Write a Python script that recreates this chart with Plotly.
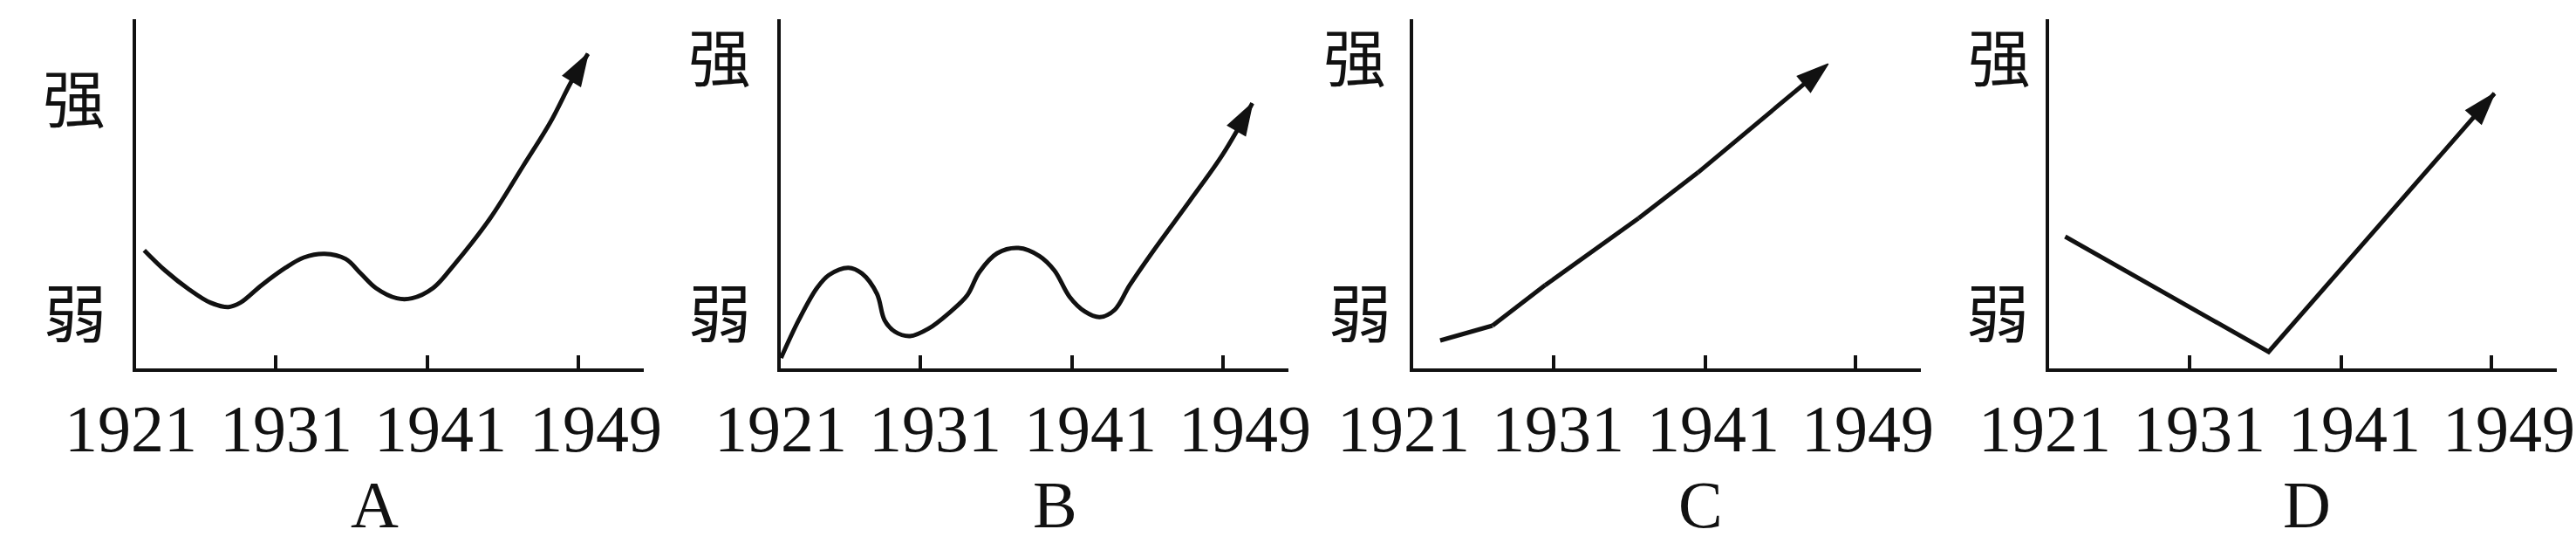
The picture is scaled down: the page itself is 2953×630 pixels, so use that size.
import plotly.graph_objects as go

# ---------------- data ----------------
# x is a schematic time index (tick at 1931 ~ 1, 1941 ~ 2, 1949 ~ 3),
# y is a schematic strength scale 0..10 (弱 low, 强 high)
YEAR_LABELS = ["1921", "1931", "1941", "1949"]
TICK_POS = [0.95, 1.98, 3.0]            # tick marks for 1931, 1941, 1949
LABEL_POS = [-0.03, 1.02, 2.07, 3.12]   # centres of year labels
PANEL_NAMES = ["A", "B", "C", "D"]
STRONG, WEAK = "强", "弱"

A_x = [0.058, 0.201, 0.364, 0.507, 0.630, 0.711, 0.854, 1.017, 1.140, 1.282, 1.425, 1.527,
       1.630, 1.772, 1.874, 2.017, 2.160, 2.405, 2.629, 2.813, 2.956, 3.068]
A_y = [3.383, 2.8, 2.258, 1.883, 1.758, 1.883, 2.383, 2.883, 3.175, 3.283, 3.133, 2.718,
       2.3, 2.008, 2.008, 2.3, 2.968, 4.3, 5.8, 7.05, 8.218, 9.008]

B_x = [0.005, 0.125, 0.248, 0.330, 0.462, 0.554, 0.656, 0.707, 0.778, 0.880, 1.003, 1.146,
       1.268, 1.350, 1.472, 1.615, 1.758, 1.860, 1.962, 2.064, 2.166, 2.268, 2.370, 2.533,
       2.778, 3.002, 3.202]
B_y = [0.3, 1.383, 2.3, 2.675, 2.883, 2.718, 2.133, 1.383, 1.05, 0.925, 1.133, 1.593,
       2.093, 2.758, 3.3, 3.45, 3.218, 2.8, 2.05, 1.633, 1.468, 1.675, 2.383, 3.383,
       4.8, 6.133, 7.593]

C_x = [0.183, 0.538, 0.896, 1.529, 1.932, 2.219, 2.815]
C_y = [0.8, 1.225, 2.385, 4.3, 5.61, 6.62, 8.72]

D_x = [0.109, 1.489, 3.021]
D_y = [3.775, 0.475, 7.875]

SERIES_X = [A_x, B_x, C_x, D_x]
SERIES_Y = [A_y, B_y, C_y, D_y]
SMOOTH = [True, True, False, False]

# level of the 强 / 弱 labels on each panel's y scale
STRONG_LEVEL = [7.85, 9.0, 9.0, 9.0]
WEAK_LEVEL = [1.7, 1.7, 1.7, 1.7]

# ---------------- layout / styling ----------------
W, H = 2953, 630
PANEL_X0 = [155.5, 894.5, 1620, 2349]   # left edge (y axis) of each panel, px
PANEL_W = 582
AX_BOTTOM, AX_TOP = 422, 22
UNIT = 169.0                            # px per x unit
X_RANGE = [0, PANEL_W / UNIT]
Y_RANGE = [0, 10]
LABEL_SHIFT = [0.0, 0.033, -0.035, 0.0]
STRONG_X = [-0.417, -0.411, -0.396, -0.340]
WEAK_X = [-0.411, -0.411, -0.361, -0.349]
LETTER_X = [1.624, 1.861, 1.947, 1.751]

SERIF = "Liberation Serif, Times New Roman, serif"
CJK = "Noto Sans CJK SC, sans-serif"
INK = "#111111"


def dom(u):
    """x position in units -> fraction of the panel's x domain"""
    return u * UNIT / PANEL_W


fig = go.Figure()
annotations = []

for i in range(4):
    n = "" if i == 0 else str(i + 1)
    xa, ya = "x" + n, "y" + n
    sizes = [0] * (len(SERIES_X[i]) - 1) + [38]
    fig.add_trace(go.Scatter(
        x=SERIES_X[i], y=SERIES_Y[i], xaxis=xa, yaxis=ya,
        mode="lines+markers",
        line=dict(color=INK, width=5, shape="spline" if SMOOTH[i] else "linear", smoothing=1.0),
        marker=dict(symbol="arrow", size=sizes, color=INK, opacity=1, angleref="previous",
                    line=dict(width=1.5, color=INK)),
        cliponaxis=False, showlegend=False, hoverinfo="skip",
    ))

    dom_x = [PANEL_X0[i] / W, (PANEL_X0[i] + PANEL_W) / W]
    dom_y = [1 - AX_BOTTOM / H, 1 - AX_TOP / H]
    fig.layout["xaxis" + n] = dict(
        domain=dom_x, range=X_RANGE, anchor=ya,
        showline=True, linewidth=4.2, linecolor=INK,
        ticks="inside", tickvals=TICK_POS, ticklen=15, tickwidth=4.2, tickcolor=INK,
        showticklabels=False, showgrid=False, zeroline=False, fixedrange=True,
    )
    fig.layout["yaxis" + n] = dict(
        domain=dom_y, range=Y_RANGE, anchor=xa,
        showline=True, linewidth=4.2, linecolor=INK,
        ticks="", showticklabels=False, showgrid=False, zeroline=False, fixedrange=True,
    )

    # 强 / 弱 labels
    for txt, lvl, lx in ((STRONG, STRONG_LEVEL[i], STRONG_X[i]), (WEAK, WEAK_LEVEL[i], WEAK_X[i])):
        annotations.append(dict(
            text=txt, xref=xa + " domain", yref=ya, x=dom(lx), y=lvl,
            xanchor="center", yanchor="middle",
            showarrow=False, font=dict(family=CJK, size=72, color=INK),
        ))
    # year labels
    for lab, pos in zip(YEAR_LABELS, LABEL_POS):
        annotations.append(dict(
            text=lab, xref=xa + " domain", yref="paper", x=dom(pos + LABEL_SHIFT[i]), y=1 - 491 / H,
            xanchor="center", yanchor="middle", showarrow=False,
            font=dict(family=SERIF, size=76, color=INK),
        ))
    # panel letter
    annotations.append(dict(
        text=PANEL_NAMES[i], xref=xa + " domain", yref="paper", x=dom(LETTER_X[i]), y=1 - 578 / H,
        xanchor="center", yanchor="middle", showarrow=False,
        font=dict(family=SERIF, size=76, color=INK),
    ))

fig.update_layout(
    width=W, height=H, margin=dict(l=0, r=0, t=0, b=0),
    paper_bgcolor="white", plot_bgcolor="white",
    annotations=annotations, showlegend=False,
)

fig.write_html("out.html", config={"displayModeBar": False},
               post_script="document.body.style.margin='0';")
